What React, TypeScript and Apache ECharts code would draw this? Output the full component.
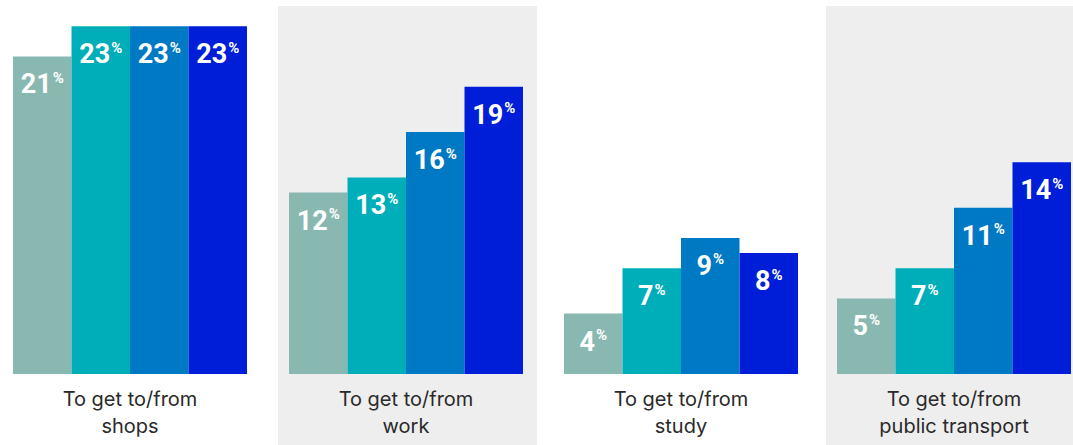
import React, { useEffect, useRef } from "react";
import * as echarts from "echarts";

const categories = [
  "To get to/from\nshops",
  "To get to/from\nwork",
  "To get to/from\nstudy",
  "To get to/from\npublic transport",
];
const seriesNames = ["Series 1", "Series 2", "Series 3", "Series 4"];
const series1 = [21, 12, 4, 5];
const series2 = [23, 13, 7, 7];
const series3 = [23, 16, 9, 11];
const series4 = [23, 19, 8, 14];
const seriesValues = [series1, series2, series3, series4];
const colors = ["#88B8B0", "#00AEBA", "#0079C5", "#001ED8"];

const groupLefts = [13, 289, 564, 837];
const groupWidth = 234;
const panels = [
  { x: 278, width: 259 },
  { x: 826, width: 247 },
];

export default function App() {
  const ref = useRef<HTMLDivElement>(null);
  useEffect(() => {
    if (!ref.current) return;
    const chart = echarts.init(ref.current, null, { renderer: "svg" });
    const grids = groupLefts.map((left) => ({
      left,
      width: groupWidth,
      top: 11,
      bottom: 71,
    }));
    const xAxes = categories.map((c, i) => ({
      type: "category" as const,
      gridIndex: i,
      data: [c],
      axisLine: { show: false },
      axisTick: { show: false },
      axisLabel: {
        color: "#2a2a2a",
        fontFamily: "Inter",
        fontSize: 20,
        lineHeight: 27,
        margin: 11,
      },
    }));
    const yAxes = categories.map((_, i) => ({
      type: "value" as const,
      gridIndex: i,
      min: 0,
      max: 24,
      show: false,
      splitLine: { show: false },
    }));
    const series: any[] = [];
    categories.forEach((_, i) => {
      seriesValues.forEach((vals, j) => {
        series.push({
          type: "bar",
          name: seriesNames[j],
          xAxisIndex: i,
          yAxisIndex: i,
          data: [vals[i]],
          barGap: "0%",
          barCategoryGap: "0%",
          itemStyle: { color: colors[j] },
          label: {
            show: true,
            position: "insideTop",
            distance: 14,
            formatter: (p: any) => `{v|${p.value}}{p|%}`,
            rich: {
              v: {
                color: "#ffffff",
                fontFamily: "Roboto",
                fontWeight: "bold",
                fontSize: 27,
                lineHeight: 28,
              },
              p: {
                color: "#ffffff",
                fontFamily: "Roboto",
                fontWeight: "bold",
                fontSize: 15,
                lineHeight: 28,
                verticalAlign: "top",
                padding: [0, 0, 10, 1],
              },
            },
          },
        });
      });
    });
    chart.setOption({
      animation: false,
      backgroundColor: "#ffffff",
      graphic: panels.map((p) => ({
        type: "rect",
        z: -10,
        shape: { x: p.x, y: 6, width: p.width, height: 439 },
        style: { fill: "#EEEEEE" },
      })),
      grid: grids,
      xAxis: xAxes,
      yAxis: yAxes,
      series,
    });
    return () => chart.dispose();
  }, []);
  return (
    <div
      ref={ref}
      style={{ position: "absolute", left: 0, top: 0, width: 1073, height: 445 }}
    />
  );
}
